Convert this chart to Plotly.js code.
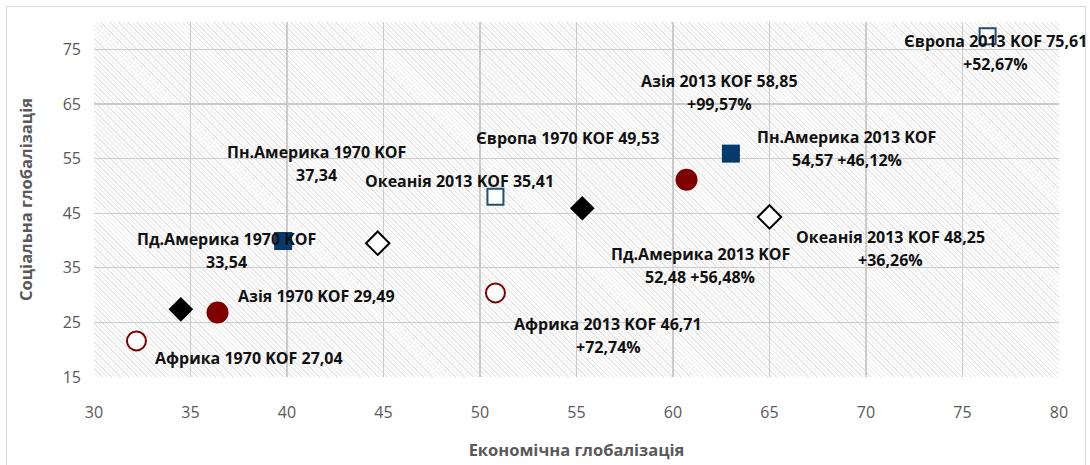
<!DOCTYPE html>
<html>
<head>
<meta charset="utf-8">
<script src="https://cdn.plot.ly/plotly-3.0.1.min.js"></script>
<style>
  html, body { margin:0; padding:0; width:1090px; height:465px; overflow:hidden; background:#fff; }
  #frame { position:absolute; left:6px; top:6px; width:1080px; height:470px; border:1px solid #d9d9d9; box-sizing:border-box; }
  #hatch { position:absolute; background: repeating-linear-gradient(45deg, #ffffff 0px, #ffffff 2.2px, #e7e7e7 2.2px, #e7e7e7 3.2px); }
  #chart { position:absolute; left:0; top:0; width:1090px; height:465px; }
</style>
</head>
<body>
<div id="frame"></div>
<div id="hatch"></div>
<div id="chart"></div>
<script>
// ---- data ----
const regions    = ['Африка', 'Азія', 'Пд.Америка', 'Пн.Америка', 'Океанія', 'Європа'];
const econ1970   = [32.2, 36.4, 34.5, 39.8, 44.7, 50.8];
const social1970 = [21.6, 26.8, 27.4, 39.9, 39.5, 48.0];
const econ2013   = [50.8, 60.7, 55.3, 63.0, 65.0, 76.3];
const social2013 = [30.4, 51.1, 45.9, 55.9, 44.3, 77.4];
const labels1970 = [
  'Африка 1970 KOF 27,04',
  'Азія 1970 KOF 29,49',
  'Пд.Америка 1970 KOF\n33,54',
  'Пн.Америка 1970 KOF\n37,34',
  'Океанія 2013 KOF 35,41',
  'Європа 1970 KOF 49,53'
];
const labels2013 = [
  'Африка 2013 KOF 46,71\n+72,74%',
  'Азія 2013 KOF 58,85\n+99,57%',
  'Пд.Америка 2013 KOF\n52,48 +56,48%',
  'Пн.Америка 2013 KOF\n54,57 +46,12%',
  'Океанія 2013 KOF 48,25\n+36,26%',
  'Європа 2013 KOF 75,61\n+52,67%'
];
const xTitle = 'Економічна глобалізація';
const yTitle = 'Соціальна глобалізація';

// ---- styles ----
const markerStyles = [
  {symbol:'circle',  size:19, color:'#ffffff', line:{color:'#800000', width:2}},
  {symbol:'circle',  size:22, color:'#800000', line:{color:'#800000', width:0}},
  {symbol:'diamond', size:19, color:'#000000', line:{color:'#000000', width:0}},
  {symbol:'square',  size:18, color:'#063a6d', line:{color:'#063a6d', width:0}},
  {symbol:'diamond', size:18, color:'#ffffff', line:{color:'#000000', width:2}},
  {symbol:'square',  size:16, color:'#ffffff', line:{color:'#1f4e79', width:2}}
];
// label offsets in pixels (dx right, dy down) relative to the marker
const off1970 = [[113,17],[99,-17],[46,-59],[33,-78],[82,-62],[72,-59]];
const off2013 = [[113,43],[33,-87],[118,57],[116,-5],[121,32],[8,16]];
const lineGap = 23;
const labelFont = {family:'"Open Sans", sans-serif', size:16, color:'#111111', weight:700};

const traces = regions.map((r, i) => ({
  type:'scatter', mode:'markers', name:r,
  x:[econ1970[i], econ2013[i]],
  y:[social1970[i], social2013[i]],
  marker: markerStyles[i],
  cliponaxis:false,
  hoverinfo:'skip'
}));

const annotations = [];
function addLabel(x, y, text, off) {
  const lines = text.split('\n');
  const n = lines.length;
  lines.forEach((ln, k) => {
    annotations.push({
      x:x, y:y, xref:'x', yref:'y', text:ln, showarrow:false,
      xanchor:'center', yanchor:'middle',
      xshift: off[0],
      yshift: -(off[1] + (k - (n-1)/2) * lineGap),
      font: labelFont
    });
  });
}
regions.forEach((r, i) => {
  addLabel(econ1970[i], social1970[i], labels1970[i], off1970[i]);
  addLabel(econ2013[i], social2013[i], labels2013[i], off2013[i]);
});

const gridColor = '#cbcbcb';
const layout = {
  width:1090, height:465,
  margin:{l:94, r:31, t:22, b:88},
  paper_bgcolor:'rgba(0,0,0,0)',
  plot_bgcolor:'rgba(0,0,0,0)',
  showlegend:false,
  font:{family:'"Open Sans", sans-serif', color:'#595959'},
  xaxis:{
    range:[30,80], tick0:30, dtick:5, tickmode:'linear',
    showgrid:true, gridcolor:gridColor, gridwidth:1.3,
    zeroline:false, showline:false, ticks:'',
    ticklabelstandoff:24,
    tickfont:{size:16, color:'#595959'},
    title:{text:xTitle, font:{size:16.5, color:'#595959', weight:700}, standoff:22},
    fixedrange:true
  },
  yaxis:{
    range:[15,80], tick0:15, dtick:10, tickmode:'linear',
    showgrid:true, gridcolor:gridColor, gridwidth:1.3,
    zeroline:false, showline:false, ticks:'',
    ticklabelstandoff:12,
    tickfont:{size:16, color:'#595959'},
    title:{text:yTitle, font:{size:16.5, color:'#595959', weight:700}, standoff:25},
    fixedrange:true
  },
  annotations: annotations
};

Plotly.newPlot('chart', traces, layout, {displayModeBar:false, staticPlot:true}).then(gd => {
  const s = gd._fullLayout._size;
  const h = document.getElementById('hatch');
  h.style.left = s.l + 'px';
  h.style.top = s.t + 'px';
  h.style.width = s.w + 'px';
  h.style.height = s.h + 'px';
});
</script>
</body>
</html>
